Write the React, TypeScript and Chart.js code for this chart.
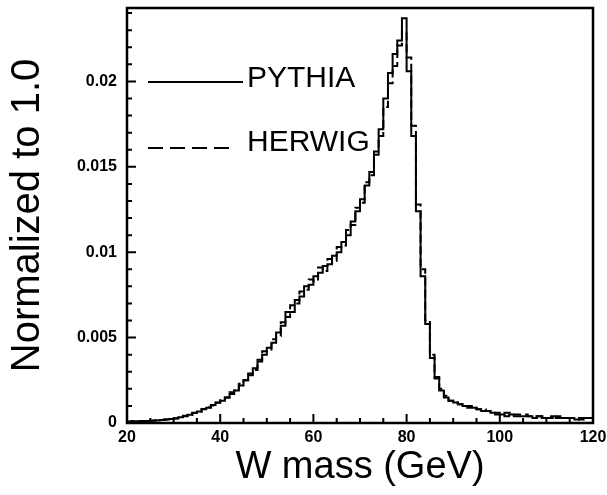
import React, { useEffect, useRef } from "react";
import { Chart, registerables } from "chart.js";

Chart.register(...registerables);

// ---- data ----
const BIN_START = 20; // GeV, left edge of first bin
const BIN_WIDTH = 1; // GeV
const X_MIN = 20;
const X_MAX = 120;
const Y_MIN = 0;
const Y_MAX = 0.0243;

const xTickValues = [20, 40, 60, 80, 100, 120];
const xTickLabels = ["20", "40", "60", "80", "100", "120"];
const yTickValues = [0, 0.005, 0.01, 0.015, 0.02];
const yTickLabels = ["0", "0.005", "0.01", "0.015", "0.02"];

const seriesNames = ["PYTHIA", "HERWIG"];

// bin contents, bins 20-21, 21-22, ... 119-120 GeV
const pythia = [
  0.00008, 0.00009, 0.0001, 0.0001, 0.00011, 0.00012, 0.00014, 0.00015, 0.00017, 0.0002,
  0.00023, 0.00028, 0.00034, 0.0004, 0.00048, 0.00058, 0.00068, 0.0008, 0.0009, 0.00105,
  0.00118, 0.0013, 0.0015, 0.0017, 0.0019, 0.0022, 0.0025, 0.0028, 0.0032, 0.0036,
  0.004, 0.0044, 0.0047, 0.0053, 0.0057, 0.0065, 0.0065, 0.0072, 0.0074, 0.008,
  0.0081, 0.0086, 0.0088, 0.0092, 0.0093, 0.0098, 0.01, 0.0106, 0.011, 0.0118,
  0.0124, 0.0131, 0.0139, 0.0147, 0.0157, 0.0172, 0.019, 0.0205, 0.0216, 0.0224,
  0.0237, 0.0206, 0.0168, 0.0124, 0.0086, 0.0058, 0.0038, 0.0026, 0.0019, 0.0015,
  0.0013, 0.0012, 0.0011, 0.001, 0.0009, 0.0009, 0.0008, 0.0007, 0.0007, 0.0006,
  0.0005, 0.0005, 0.0004, 0.0005, 0.0004, 0.0004, 0.0004, 0.0004, 0.0003, 0.0004,
  0.0003, 0.0003, 0.0004, 0.0003, 0.0003, 0.0003, 0.0003, 0.0002, 0.0003, 0.0003,
];

const herwig = [
  0.00009, 0.00008, 0.0001, 0.00011, 0.0001, 0.00013, 0.00013, 0.00016, 0.00018, 0.00021,
  0.00024, 0.00027, 0.00035, 0.00042, 0.00047, 0.0006, 0.00066, 0.00082, 0.00092, 0.00103,
  0.0012, 0.0014, 0.0015, 0.0018, 0.0019, 0.0023, 0.0025, 0.0029, 0.0031, 0.0037,
  0.0042, 0.0043, 0.0049, 0.0051, 0.0059, 0.0062, 0.0069, 0.007, 0.0077, 0.0078,
  0.0084, 0.0083, 0.0091, 0.0089, 0.0096, 0.0095, 0.0103, 0.0104, 0.0113, 0.0116,
  0.0126, 0.0129, 0.0141, 0.0145, 0.0159, 0.0168, 0.0185, 0.0199, 0.0209, 0.0221,
  0.0229, 0.0214, 0.0174, 0.0128, 0.009, 0.006, 0.004, 0.0027, 0.002, 0.0016,
  0.0013, 0.0012, 0.0011, 0.001, 0.001, 0.0009, 0.0008, 0.0008, 0.0007, 0.0006,
  0.0006, 0.0005, 0.0006, 0.0006, 0.0005, 0.0005, 0.0005, 0.0004, 0.0004, 0.0004,
  0.0004, 0.0003, 0.0003, 0.0004, 0.0003, 0.0003, 0.0003, 0.0003, 0.0002, 0.0003,
];

const FONT = "'Liberation Sans', Arial, Helvetica, sans-serif";

function histPoints(values: number[]) {
  const pts = values.map((v, i) => ({ x: BIN_START + i * BIN_WIDTH, y: v }));
  pts.push({ x: BIN_START + values.length * BIN_WIDTH, y: values[values.length - 1] });
  return pts;
}

const frameAndLegend = {
  id: "frameAndLegend",
  afterDatasetsDraw(chart: any) {
    const { ctx, chartArea: a, scales } = chart;
    const xs = scales.x;
    const ys = scales.y;
    ctx.save();
    ctx.strokeStyle = "#000";
    ctx.lineWidth = 2.5;
    ctx.setLineDash([]);
    ctx.strokeRect(a.left, a.top, a.right - a.left, a.bottom - a.top);

    // inward tick marks
    ctx.lineWidth = 2;
    ctx.beginPath();
    for (let v = X_MIN; v <= X_MAX; v += 5) {
      const px = xs.getPixelForValue(v);
      const len = v % 20 === 0 ? 9 : 5;
      ctx.moveTo(px, a.bottom);
      ctx.lineTo(px, a.bottom - len);
    }
    for (let k = 0; k <= 24; k++) {
      const py = ys.getPixelForValue(k * 0.001);
      const len = k % 5 === 0 ? 9 : 5;
      ctx.moveTo(a.left, py);
      ctx.lineTo(a.left + len, py);
    }
    ctx.stroke();

    // legend
    const lx0 = a.left + 21;
    ctx.lineWidth = 2;
    ctx.beginPath();
    ctx.moveTo(lx0, a.top + 74);
    ctx.lineTo(a.left + 116, a.top + 74);
    ctx.stroke();
    ctx.setLineDash([15, 7]);
    ctx.beginPath();
    ctx.moveTo(lx0, a.top + 140);
    ctx.lineTo(a.left + 107, a.top + 140);
    ctx.stroke();
    ctx.setLineDash([]);

    ctx.fillStyle = "#000";
    ctx.font = `30px ${FONT}`;
    ctx.textBaseline = "middle";
    ctx.textAlign = "left";
    ctx.fillText(seriesNames[0], a.left + 120, a.top + 71);
    ctx.fillText(seriesNames[1], a.left + 120, a.top + 135);
    ctx.restore();
  },
};

export default function App() {
  const canvasRef = useRef<HTMLCanvasElement | null>(null);

  useEffect(() => {
    const canvas = canvasRef.current;
    if (!canvas) return;
    const chart = new Chart(canvas, {
      type: "line",
      data: {
        datasets: [
          {
            label: seriesNames[1],
            data: histPoints(herwig),
            stepped: "after",
            borderColor: "#000",
            borderWidth: 2,
            borderDash: [8, 4],
            pointRadius: 0,
            fill: false,
          },
          {
            label: seriesNames[0],
            data: histPoints(pythia),
            stepped: "after",
            borderColor: "#000",
            borderWidth: 2,
            pointRadius: 0,
            fill: false,
          },
        ],
      },
      options: {
        responsive: false,
        animation: false,
        devicePixelRatio: 1,
        layout: { padding: { top: 8, right: 14, left: 0, bottom: 0 } },
        plugins: {
          legend: { display: false },
          tooltip: { enabled: false },
        },
        scales: {
          x: {
            type: "linear",
            min: X_MIN,
            max: X_MAX,
            grid: { display: false, drawTicks: false },
            border: { display: false },
            afterBuildTicks: (s: any) => {
              s.ticks = xTickValues.map((v) => ({ value: v }));
            },
            afterFit: (s: any) => {
              s.height = 72;
              s.paddingLeft = 0;
              s.paddingRight = 0;
            },
            ticks: {
              autoSkip: false,
              maxRotation: 0,
              padding: 5,
              color: "#000",
              font: { family: FONT, size: 16, weight: "bold" },
              callback: (v: any) => {
                const i = xTickValues.indexOf(Number(v));
                return i >= 0 ? xTickLabels[i] : "";
              },
            },
            title: {
              display: true,
              text: "W mass (GeV)",
              color: "#000",
              font: { family: FONT, size: 38, lineHeight: 1 },
              padding: { top: 8, bottom: 8 },
            },
          },
          y: {
            type: "linear",
            min: Y_MIN,
            max: Y_MAX,
            grid: { display: false, drawTicks: false },
            border: { display: false },
            afterBuildTicks: (s: any) => {
              s.ticks = yTickValues.map((v) => ({ value: v }));
            },
            afterFit: (s: any) => {
              s.width = 127;
              s.paddingTop = 0;
              s.paddingBottom = 0;
            },
            ticks: {
              autoSkip: false,
              padding: 10,
              color: "#000",
              font: { family: FONT, size: 16, weight: "bold" },
              callback: (v: any) => {
                const i = yTickValues.findIndex((t) => Math.abs(t - Number(v)) < 1e-9);
                return i >= 0 ? yTickLabels[i] : "";
              },
            },
            title: {
              display: true,
              text: "Normalized to 1.0",
              color: "#000",
              font: { family: FONT, size: 40, lineHeight: 1 },
              padding: { top: 8, bottom: 8 },
            },
          },
        },
      },
      plugins: [frameAndLegend],
    });
    return () => chart.destroy();
  }, []);

  return (
    <div style={{ position: "absolute", left: 0, top: 0, width: 607, height: 495, background: "#fff" }}>
      <canvas ref={canvasRef} width={607} height={495} style={{ display: "block" }} />
    </div>
  );
}
